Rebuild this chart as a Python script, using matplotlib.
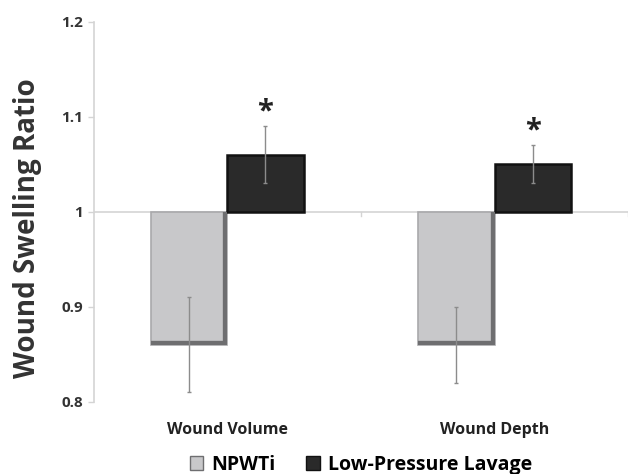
import matplotlib.pyplot as plt
import numpy as np
from matplotlib.patches import Patch

# data
categories = ['Wound Volume', 'Wound Depth']
npwti = [0.86, 0.86]
npwti_err = [0.05, 0.04]
lavage = [1.06, 1.05]
lavage_err = [0.03, 0.02]
significant = [True, True]
yticks = [0.8, 0.9, 1.0, 1.1, 1.2]
ytick_labels = ['0.8', '0.9', '1', '1.1', '1.2']

plt.rcParams['font.family'] = ['Open Sans', 'DejaVu Sans']

fig = plt.figure(figsize=(6.3, 4.74), dpi=100)
ax = fig.add_axes([0.149, 0.152, 0.848, 0.802])

x = np.arange(len(categories))
w = 0.285
base = 1.0

gray_face = '#c8c8ca'
gray_light = '#a9a9ab'
gray_dark = '#6e6e70'
black_face = '#2a2a2a'
black_edge = '#111111'

gray_bars = ax.bar(x - w / 2, np.array(npwti) - base, w, bottom=base,
                   color=gray_face, edgecolor=gray_light, linewidth=1.2, zorder=2)
black_bars = ax.bar(x + w / 2, np.array(lavage) - base, w, bottom=base,
                    color=black_face, edgecolor=black_edge, linewidth=1.8, zorder=2)

# bevel look: darker right and bottom edge inside the gray bars
for b in gray_bars:
    x0 = b.get_x()
    x1 = x0 + b.get_width()
    y0 = b.get_y() + b.get_height()
    ln, = ax.plot([x1, x1, x0], [base, y0, y0], color=gray_dark, linewidth=6,
                  solid_joinstyle='miter', zorder=2.5)
    ln.set_clip_path(b)

ax.errorbar(x - w / 2, npwti, yerr=npwti_err, fmt='none',
            ecolor='#8c8c8c', elinewidth=1, capsize=1.5, zorder=3)
ax.errorbar(x + w / 2, lavage, yerr=lavage_err, fmt='none',
            ecolor='#8c8c8c', elinewidth=1, capsize=1.5, zorder=3)

for i, sig in enumerate(significant):
    if sig:
        ax.text(x[i] + w / 2, lavage[i] + lavage_err[i] + 0.0, '*',
                ha='center', va='bottom', fontsize=21, fontweight='bold',
                color='#222222')

# category axis crosses at 1
ax.axhline(base, color='#d4d4d4', linewidth=1.2, zorder=1)
for b in [0.5, 1.5]:
    ax.plot([b, b], [base - 0.004, base], color='#d4d4d4', linewidth=1, zorder=1)

ax.set_xlim(-0.5, 1.5)
ax.set_ylim(0.8, 1.2)
ax.set_yticks(yticks)
ax.set_yticklabels(ytick_labels, fontsize=11, fontweight='bold', color='#333333')
ax.set_xticks([])
ax.tick_params(axis='y', length=4, color='#d4d4d4', width=1, pad=4)

for s in ['top', 'right', 'bottom']:
    ax.spines[s].set_visible(False)
ax.spines['left'].set_color('#d4d4d4')
ax.spines['left'].set_linewidth(1.2)

for i, c in enumerate(categories):
    ax.text(x[i], -0.075, c, transform=ax.get_xaxis_transform(),
            ha='center', va='center', fontsize=11.5, fontweight='bold',
            color='#222222')

ax.set_ylabel('Wound Swelling Ratio', fontsize=20, fontweight='bold',
              color='#333333')
ax.yaxis.set_label_coords(-0.098, 0.458)

handles = [Patch(facecolor=gray_face, edgecolor=gray_dark, label='NPWTi'),
           Patch(facecolor=black_face, edgecolor=black_edge, label='Low-Pressure Lavage')]
fig.legend(handles=handles, loc='center', bbox_to_anchor=(0.573, 0.02), ncol=2,
           frameon=False, handlelength=0.7, handleheight=0.7,
           handletextpad=0.4, columnspacing=1.6,
           prop={'weight': 'bold', 'size': 14})

fig.savefig('out.png', dpi=100)
